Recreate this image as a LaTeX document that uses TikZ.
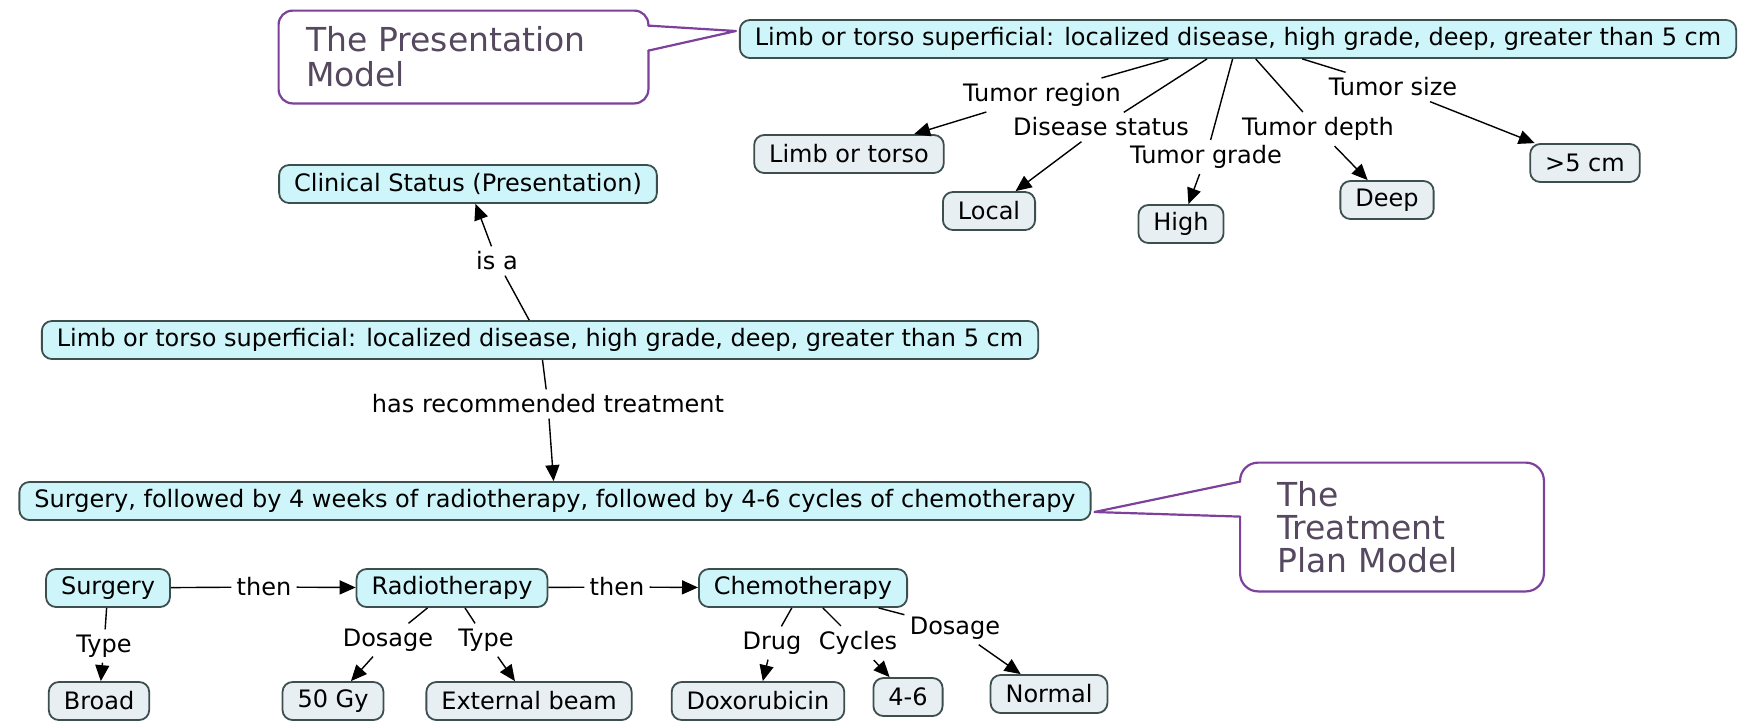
\documentclass[tikz,border=0pt]{standalone}
\usepackage{fontspec}
\setmainfont{DejaVu Sans}
\usetikzlibrary{arrows.meta,calc}
\definecolor{conceptfill}{RGB}{206,246,250}
\definecolor{leaffill}{RGB}{232,239,243}
\definecolor{nodeline}{RGB}{60,78,78}
\definecolor{noteline}{RGB}{125,65,155}
\definecolor{notetext}{RGB}{85,72,95}

\begin{document}
\begin{tikzpicture}[x=0.5pt, y=-0.5pt,
  concept/.style={draw=nodeline, line width=0.9pt, fill=conceptfill, rounded corners=5pt, minimum height=19pt, inner xsep=7.5pt, inner ysep=3pt, font=\fontsize{12}{14}\selectfont},
  leaf/.style={concept, fill=leaffill},
  link/.style={inner sep=2.5pt, font=\fontsize{12}{14}\selectfont},
  note/.style={text=notetext, align=left, font=\fontsize{16.5}{16.5}\selectfont, inner ysep=0pt},
  noteedge/.style={draw=noteline, line width=1.1pt, line join=round, line cap=round},
  edge/.style={line width=0.7pt},
  arr/.style={edge, -{Triangle[length=8pt, width=7pt]}}]
\useasboundingbox (0,0) rectangle (1747,720);

\node (topC) at (1238,39) [concept] {Limb or torso superficial: localized disease, high grade, deep, greater than 5 cm};
\node (region) at (1042,95) [link] {Tumor region};
\node (status) at (1101,127) [link] {Disease status};
\node (grade) at (1206,157) [link] {Tumor grade};
\node (depth) at (1318,129) [link] {Tumor depth};
\node (size) at (1393,87) [link] {Tumor size};
\node (limb) at (849,154) [leaf] {Limb or torso};
\node (local) at (989,211) [leaf] {Local};
\node (high) at (1181,224) [leaf] {High};
\node (deep) at (1387,200) [leaf] {Deep};
\node (big) at (1585,163) [leaf] {>5 cm};

\node (clinical) at (468,184) [concept] {Clinical Status (Presentation)};
\node (isa) at (497,261) [link] {is a};
\node (midC) at (540,340) [concept] {Limb or torso superficial: localized disease, high grade, deep, greater than 5 cm};
\node (hasrec) at (548,404) [link] {has recommended treatment};
\node (plan) at (555,501) [concept] {Surgery, followed by 4 weeks of radiotherapy, followed by 4-6 cycles of chemotherapy};

\node (surgery) at (108,588) [concept] {Surgery};
\node (radio) at (452,588) [concept] {Radiotherapy};
\node (chemo) at (803,588) [concept] {Chemotherapy};
\node (then1) at (264,587) [link] {then};
\node (then2) at (617,587) [link] {then};
\node (type1) at (104,646) [link] {Type};
\node (dose1) at (388,640) [link] {Dosage};
\node (type2) at (486,640) [link] {Type};
\node (drug) at (772,643) [link] {Drug};
\node (cycles) at (858,643) [link] {Cycles};
\node (dose2) at (955,628) [link] {Dosage};
\node (broad) at (99,701) [leaf] {Broad};
\node (gy) at (333,701) [leaf] {50 Gy};
\node (beam) at (529,701) [leaf] {External beam};
\node (doxo) at (758,701) [leaf] {Doxorubicin};
\node (cyc46) at (908,697) [leaf] {4-6};
\node (normal) at (1049,694) [leaf] {Normal};

\foreach \lab/\dst in {region/limb, status/local, grade/high, depth/deep, size/big}
  {\draw[edge] (topC) -- (\lab); \draw[arr] (\lab) -- (\dst);}
\draw[edge] (midC) -- (isa); \draw[arr] (isa) -- (clinical);
\draw[edge] (midC) -- (hasrec); \draw[arr] (hasrec) -- (plan);
\draw[edge] (surgery) -- (then1); \draw[arr] (then1) -- (radio);
\draw[edge] (radio) -- (then2); \draw[arr] (then2) -- (chemo);
\draw[edge] (surgery) -- (type1); \draw[arr] (type1) -- (broad);
\foreach \lab/\dst in {dose1/gy, type2/beam}
  {\draw[edge] (radio) -- (\lab); \draw[arr] (\lab) -- (\dst);}
\foreach \lab/\dst in {drug/doxo, cycles/cyc46, dose2/normal}
  {\draw[edge] (chemo) -- (\lab); \draw[arr] (\lab) -- (\dst);}

\node (presentNote) at (463.5,57) [note, minimum width=184.5pt, minimum height=46pt, text width=157.5pt, inner xsep=13.5pt] {The Presentation\\[1pt]Model};
\coordinate (presentTip) at ($(topC.west)+(-3,-8)$);
\draw[noteedge, rounded corners=7pt] ($(presentNote.north east)+(0,15)$) -- (presentNote.north east) -- (presentNote.north west)
  -- (presentNote.south west) -- (presentNote.south east) -- ($(presentNote.north east)+(0,40)$);
\draw[noteedge] ($(presentNote.north east)+(0,40)$) -- (presentTip) -- ($(presentNote.north east)+(0,15)$);

\node (planNote) at (1392,527) [note, minimum width=151.5pt, minimum height=64pt, text width=114.5pt, inner xsep=18.5pt] {The\\Treatment\\Plan Model};
\coordinate (planTip) at ($(plan.east)+(3,11)$);
\draw[noteedge, rounded corners=9pt] ($(planNote.north west)+(0,19)$) -- (planNote.north west) -- (planNote.north east)
  -- (planNote.south east) -- (planNote.south west) -- ($(planNote.north west)+(0,54)$);
\draw[noteedge] ($(planNote.north west)+(0,54)$) -- (planTip) -- ($(planNote.north west)+(0,19)$);
\end{tikzpicture}
\end{document}
